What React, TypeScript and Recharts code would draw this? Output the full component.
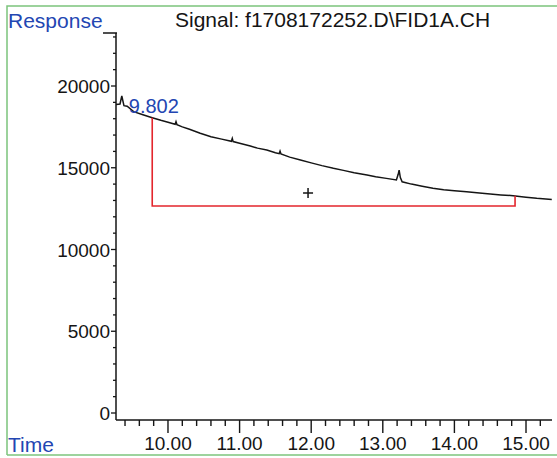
import React from 'react';
import { ComposedChart, Line, XAxis, YAxis, Scatter, ReferenceDot } from 'recharts';

const times = [9.274, 9.33, 9.355, 9.385, 9.43, 9.52, 9.65, 9.78, 9.9, 10.0, 10.1, 10.112, 10.125, 10.2, 10.3, 10.45, 10.6, 10.75, 10.885, 10.898, 10.91, 11.0, 11.15, 11.25, 11.38, 11.5, 11.553, 11.565, 11.578, 11.7, 11.85, 12.0, 12.15, 12.31, 12.45, 12.6, 12.78, 12.9, 13.05, 13.19, 13.215, 13.228, 13.245, 13.27, 13.4, 13.55, 13.7, 13.85, 14.0, 14.17, 14.35, 14.5, 14.65, 14.82, 15.0, 15.15, 15.36];
const responses = [18870, 18900, 19390, 18800, 18760, 18430, 18240, 18060, 17900, 17780, 17660, 17820, 17640, 17500, 17350, 17110, 16900, 16750, 16620, 16800, 16600, 16500, 16330, 16200, 16085, 15920, 15860, 16020, 15840, 15650, 15474, 15300, 15130, 14966, 14840, 14700, 14557, 14450, 14350, 14255, 14600, 14850, 14400, 14140, 14000, 13870, 13743, 13660, 13600, 13535, 13450, 13390, 13340, 13290, 13200, 13130, 13060];

const baselineTimes = [9.78, 9.78, 14.847, 14.847];
const baselineValues = [18060, 12660, 12660, 13290];

const markerTimes = [11.956];
const markerValues = [13456];

const peakTime = 9.802;
const peakValue = 18040;
const peakLabel = '9.802';

const xTicks = [9.4, 9.6, 9.8, 10.0, 10.2, 10.4, 10.6, 10.8, 11.0, 11.2, 11.4, 11.6, 11.8, 12.0, 12.2, 12.4, 12.6, 12.8, 13.0, 13.2, 13.4, 13.6, 13.8, 14.0, 14.2, 14.4, 14.6, 14.8, 15.0, 15.2];
const yTicks = [0, 1000, 2000, 3000, 4000, 5000, 6000, 7000, 8000, 9000, 10000, 11000, 12000, 13000, 14000, 15000, 16000, 17000, 18000, 19000, 20000, 21000, 22000, 23000];

const titleText = 'Signal: f1708172252.D\\FID1A.CH';
const yTitle = 'Response';
const xTitle = 'Time';

const curveData = times.map((t, i) => ({ t, v: responses[i] }));
const baselineData = baselineTimes.map((t, i) => ({ t, v: baselineValues[i] }));
const markerData = markerTimes.map((t, i) => ({ t, v: markerValues[i] }));

const FONT = '"Liberation Sans", Arial, sans-serif';
const BLUE = '#2346b2';
const INK = '#151515';

const isMajorX = (v: number) => Math.abs(v - Math.round(v)) < 1e-6;

const XTick = (props: any) => {
  const { x, y, payload } = props;
  const major = isMajorX(payload.value);
  return (
    <g>
      <line x1={x} x2={x} y1={y} y2={y + (major ? 13 : 6)} stroke={INK} strokeWidth={1.4} />
      {major && (
        <text x={x} y={y + 30} textAnchor="middle" fontSize={19} fontFamily={FONT} fill={INK}>
          {Number(payload.value).toFixed(2)}
        </text>
      )}
    </g>
  );
};

const YTick = (props: any) => {
  const { x, y, payload } = props;
  const major = payload.value % 5000 === 0;
  return (
    <g>
      <line x1={x} x2={x - (major ? 5 : 3)} y1={y} y2={y} stroke={INK} strokeWidth={1.3} />
      {major && (
        <text x={x - 6} y={y + 7} textAnchor="end" fontSize={19} fontFamily={FONT} fill={INK}>
          {payload.value}
        </text>
      )}
    </g>
  );
};

const PlusShape = (props: any) => {
  const { cx, cy } = props;
  return <path d={`M${cx - 5},${cy}h10M${cx},${cy - 5}v10`} stroke={INK} strokeWidth={1.5} fill="none" />;
};

export default function App() {
  return (
    <div style={{ position: 'absolute', left: 0, top: 0, width: 557, height: 458, background: '#fff' }}>
      <ComposedChart
        width={557}
        height={458}
        margin={{ top: 33, right: 5, left: 0, bottom: 0 }}
        data={curveData}
      >
        <XAxis
          type="number"
          dataKey="t"
          domain={[9.274, 15.363]}
          allowDataOverflow
          ticks={xTicks}
          interval={0}
          tick={<XTick />}
          tickLine={false}
          tickSize={0}
          tickMargin={0}
          axisLine={{ stroke: INK, strokeWidth: 1.5 }}
          height={38}
        />
        <YAxis
          type="number"
          dataKey="v"
          domain={[-428, 23242]}
          allowDataOverflow
          ticks={yTicks}
          interval={0}
          tick={<YTick />}
          tickLine={false}
          tickSize={0}
          tickMargin={0}
          axisLine={{ stroke: INK, strokeWidth: 1.5 }}
          width={116}
        />
        <Line
          data={curveData}
          dataKey="v"
          type="linear"
          stroke={INK}
          strokeWidth={1.5}
          dot={false}
          isAnimationActive={false}
        />
        <Line
          data={baselineData}
          dataKey="v"
          type="linear"
          stroke="#e3262d"
          strokeWidth={1.6}
          dot={false}
          isAnimationActive={false}
        />
        <Scatter data={markerData} dataKey="v" shape={<PlusShape />} isAnimationActive={false} />
        <ReferenceDot
          x={peakTime}
          y={peakValue}
          r={0}
          fill="none"
          stroke="none"
          label={{ value: peakLabel, position: 'top', offset: 5, fill: BLUE, fontSize: 20, fontFamily: FONT }}
        />
      </ComposedChart>
      <svg
        width={557}
        height={458}
        style={{ position: 'absolute', left: 0, top: 0, pointerEvents: 'none' }}
      >
        <path d="M 7 455 L 7 6 L 560 6" fill="none" stroke="#7cc47c" strokeWidth={1.5} />
        <line x1={7} x2={560} y1={455} y2={455} stroke="#7cc47c" strokeWidth={1.5} />
        <line x1={103} x2={117} y1={33} y2={33} stroke={INK} strokeWidth={1.5} />
        <text x={8} y={28} fontSize={21} fontFamily={FONT} fill={BLUE}>{yTitle}</text>
        <text x={175} y={27} fontSize={21} fontFamily={FONT} fill={INK}>{titleText}</text>
        <text x={8} y={452} fontSize={21} fontFamily={FONT} fill={BLUE}>{xTitle}</text>
      </svg>
    </div>
  );
}
